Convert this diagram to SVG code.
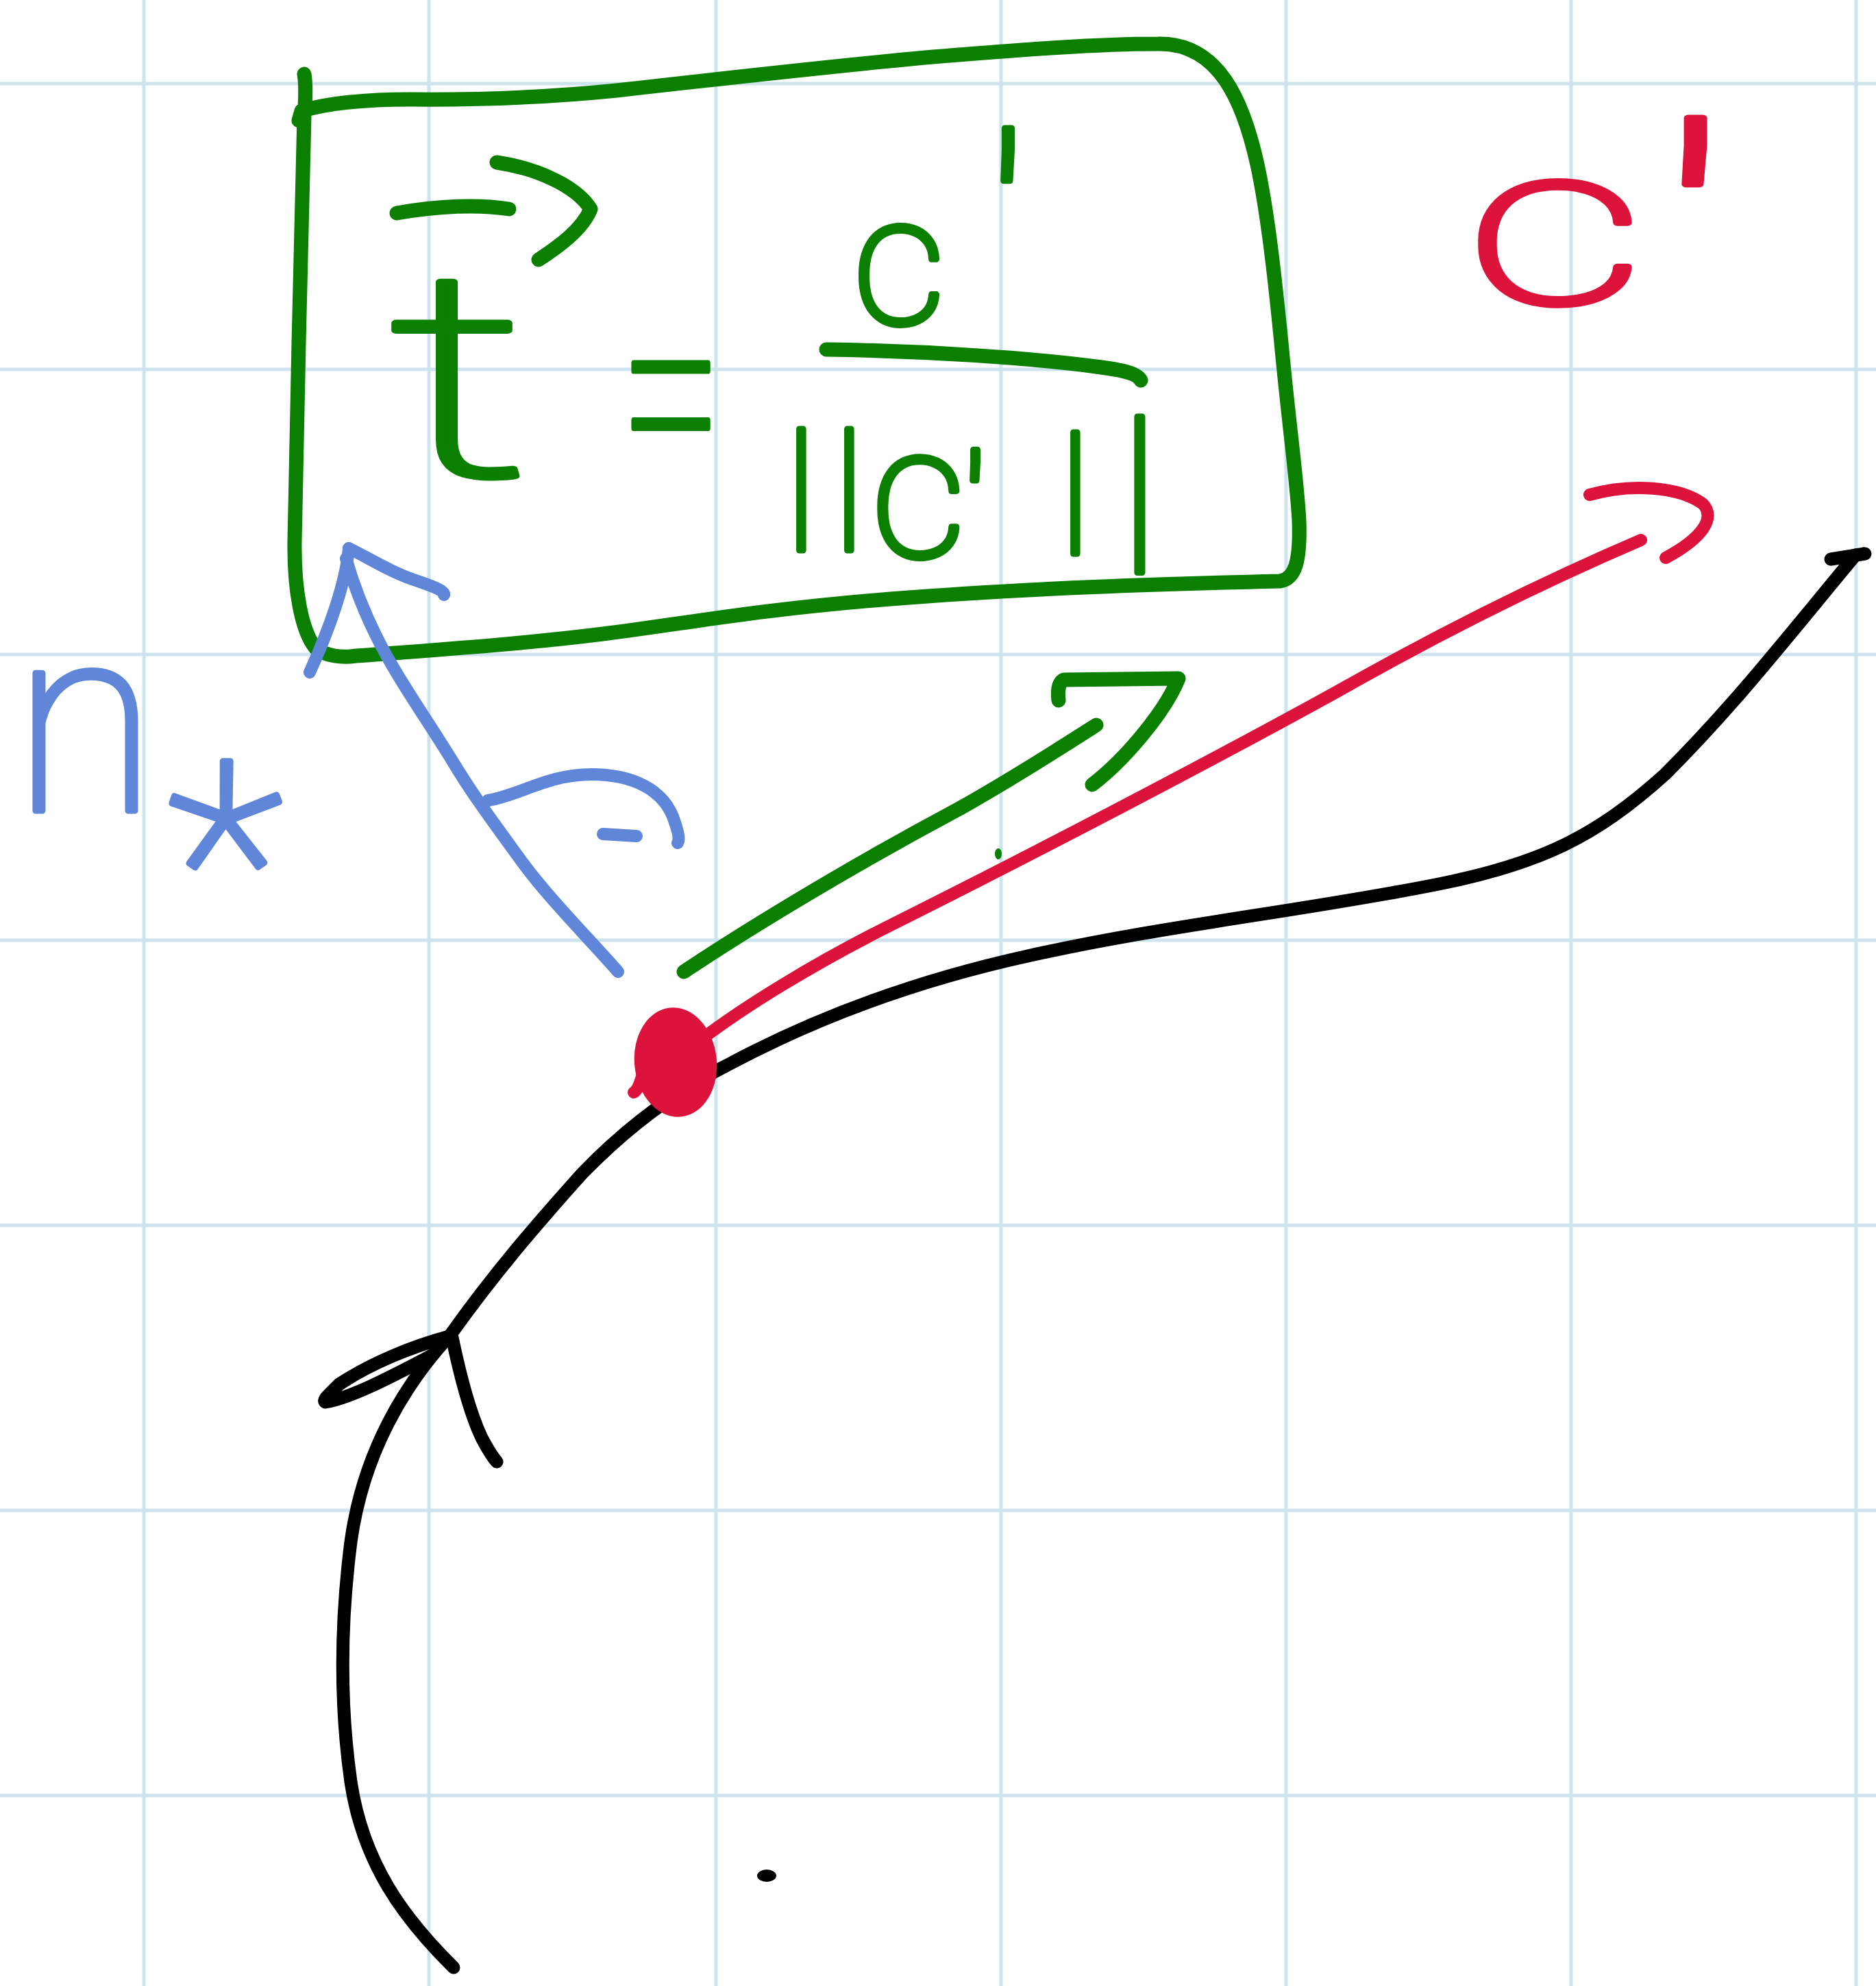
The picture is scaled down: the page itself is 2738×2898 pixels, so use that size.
<svg xmlns="http://www.w3.org/2000/svg" width="2738" height="2898" viewBox="0 0 2738 2898">
<style>
.grid line{stroke:#cde4ee;stroke-width:5}
.ink{fill:none;stroke-linecap:round;stroke-linejoin:round}
.g{stroke:#0a7f00;stroke-width:21}
.r{stroke:#dc143c;stroke-width:18}
.b{stroke:#5f86d8;stroke-width:18}
.k{stroke:#000;stroke-width:19}
.hand{font-family:Roboto,"DejaVu Sans",sans-serif;font-weight:100;stroke-width:9;stroke-linejoin:round}
.tg{fill:#0a7f00;stroke:#0a7f00}
.tr{fill:#dc143c;stroke:#dc143c}
.tb{fill:#5f86d8;stroke:#5f86d8}
</style>
<rect width="2738" height="2898" fill="#fff"/>
<g id="grid" class="grid">
<line x1="210" y1="0" x2="210" y2="2898"/><line x1="626" y1="0" x2="626" y2="2898"/><line x1="1045" y1="0" x2="1045" y2="2898"/><line x1="1461" y1="0" x2="1461" y2="2898"/><line x1="1877" y1="0" x2="1877" y2="2898"/><line x1="2293" y1="0" x2="2293" y2="2898"/><line x1="2709" y1="0" x2="2709" y2="2898"/>
<line x1="0" y1="122" x2="2738" y2="122"/><line x1="0" y1="539" x2="2738" y2="539"/><line x1="0" y1="955" x2="2738" y2="955"/><line x1="0" y1="1372" x2="2738" y2="1372"/><line x1="0" y1="1788" x2="2738" y2="1788"/><line x1="0" y1="2204" x2="2738" y2="2204"/><line x1="0" y1="2620" x2="2738" y2="2620"/>
</g>
<g id="formula-box">
<path class="ink g" d="M444,108 C447,125 446,145 444,170 L436,500 L430,790 C429,860 440,920 460,945 C475,958 500,960 520,957 C640,948 760,940 880,925 C1000,910 1100,890 1300,874 C1500,858 1700,852 1868,848 C1890,845 1898,820 1896,760 C1893,700 1880,610 1870,500 C1860,400 1850,310 1835,240 C1815,150 1780,62 1690,64 C1600,64 1500,72 1350,84 C1200,98 1050,115 900,132 C800,142 700,146 600,145 C540,145 480,150 440,162 L436,176"/>
<path class="ink g" d="M579,311 C640,300 700,298 743,305"/>
<path class="ink g" d="M725,237 C780,245 840,270 862,305 C850,335 815,360 786,379"/>
<path class="ink g" d="M1206,510 C1350,512 1500,522 1600,535 C1640,540 1660,545 1665,555"/>
<text class="hand tg" x="566" y="693" font-size="420" textLength="210" lengthAdjust="spacingAndGlyphs">t</text>
<text class="hand tg" x="905" y="714" font-size="420" textLength="150" lengthAdjust="spacingAndGlyphs">=</text>
<text class="hand tg" x="1245" y="472" font-size="265">c<tspan font-size="380" dx="60">′</tspan></text>
<text class="hand tg" y="775" font-size="210"><tspan x="1148">|</tspan><tspan x="1218">|</tspan><tspan x="1272" y="812" font-size="270">c</tspan><tspan x="1405" y="822" font-size="220">′</tspan><tspan x="1548" y="780">|</tspan><tspan x="1636" y="800" font-size="270">|</tspan></text>
</g>
<g id="curve">
<path class="ink k" d="M662,2871 C590,2800 530,2720 512,2600 C495,2480 498,2360 512,2250 C530,2120 590,2020 658,1947 C720,1860 780,1790 850,1712 C920,1640 990,1590 1060,1555 C1200,1480 1350,1428 1500,1395 C1700,1350 1900,1330 2100,1290 C2250,1260 2330,1220 2430,1130 C2530,1030 2600,940 2708,810"/>
<path class="ink k" d="M2708,810 L2722,808 L2672,816"/>
<path class="ink k" d="M656,1950 C600,1965 540,1990 495,2020 C480,2035 470,2043 475,2046 C510,2040 560,2015 630,1978"/>
<path class="ink k" d="M660,1952 C670,2000 685,2060 703,2098 C712,2115 718,2125 725,2133"/>
<ellipse cx="1119" cy="2737" rx="14" ry="9" fill="#000"/>
</g>
<g id="connectors">
<path class="ink r" d="M1000,1535 C1080,1470 1200,1400 1300,1350 C1500,1250 1750,1120 1950,1010 C2100,925 2250,850 2395,788"/>
<path class="ink r" d="M2320,722 C2380,705 2450,710 2485,735 C2505,755 2485,785 2431,814"/>
<path class="ink g" d="M998,1418 C1100,1350 1250,1260 1400,1180 C1480,1135 1550,1090 1600,1058"/>
<path class="ink g" d="M1545,1022 C1543,1005 1546,995 1553,992 L1720,990 C1700,1040 1640,1110 1594,1145"/>
<ellipse cx="1457" cy="1246" rx="5" ry="8" fill="#0a7f00"/>
<path class="ink b" d="M902,1418 C860,1370 800,1310 760,1255 C720,1200 690,1160 660,1110 C620,1045 580,990 550,930 C530,890 515,850 505,815"/>
<path class="ink b" d="M509,800 C505,850 480,920 452,981"/>
<path class="ink b" d="M509,800 C540,815 570,835 610,848 C630,855 650,862 648,868"/>
<path class="ink b" d="M712,1168 C760,1160 800,1130 863,1130 C920,1130 970,1150 985,1200 C990,1215 992,1225 989,1230"/>
<path class="ink b" d="M880,1217 L929,1220"/>
</g>
<g id="point">
<ellipse cx="986" cy="1550" rx="60" ry="80" fill="#dc143c" transform="rotate(-6 986 1550)"/>
<path class="ink r" d="M940,1560 C935,1580 930,1592 925,1594"/>
</g>
<g id="labels">
<text class="hand tr" transform="translate(2140 442) scale(1.55 1)" font-size="330">c<tspan font-size="480" dx="8" dy="90">′</tspan></text>
<text class="hand tb" x="20" y="1183" font-size="380">n<tspan x="245" y="1395" font-size="400">*</tspan></text>
</g>
</svg>
